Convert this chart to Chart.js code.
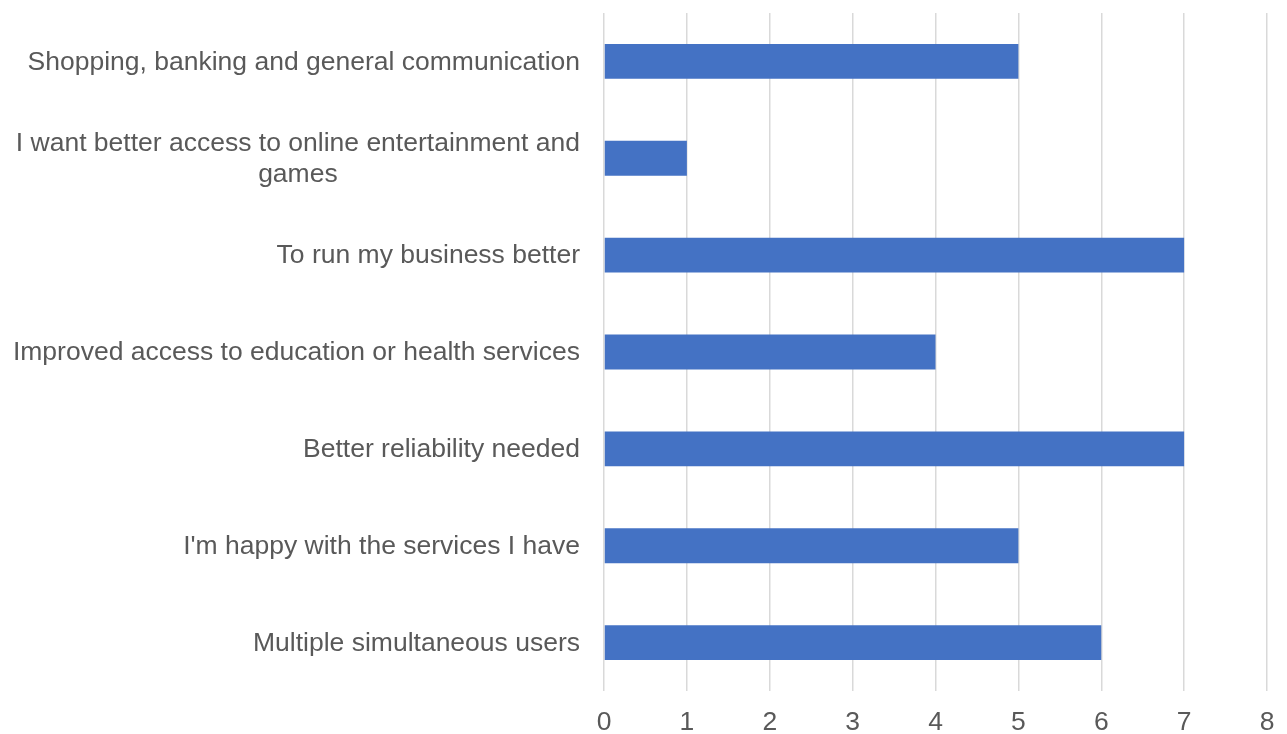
<!DOCTYPE html>
<html>
<head>
<meta charset="utf-8">
<script src="https://cdn.jsdelivr.net/npm/chart.js@4/dist/chart.umd.min.js"></script>
<style>
  html, body { margin: 0; padding: 0; background: #fff; }
  #wrap { width: 1287px; height: 734px; }
</style>
</head>
<body>
<div id="wrap"><canvas id="chart"></canvas></div>
<script>
// categories (top to bottom), wrapped labels given as arrays of lines
const categories = [
	'Shopping, banking and general communication',
	['I want better access to online entertainment and', 'games'],
	'To run my business better',
	'Improved access to education or health services',
	'Better reliability needed',
	"I'm happy with the services I have",
	'Multiple simultaneous users'
];
const responses = [5, 1, 7, 4, 7, 5, 6];
const xTicks = [0, 1, 2, 3, 4, 5, 6, 7, 8];

const textColor = '#595959';
const fontFamily = '"Liberation Sans", Arial, sans-serif';
const labelSize = 26.5;

// y labels drawn by hand so wrapped lines are centred on each other like the original
const categoryLabels = {
	id: 'categoryLabels',
	afterDraw(chart) {
		let ctx = chart.ctx;
		let yScale = chart.scales.y;
		let right = chart.chartArea.left - 24;
		ctx.save();
		ctx.font = labelSize + 'px ' + fontFamily;
		ctx.fillStyle = textColor;
		ctx.textBaseline = 'middle';
		categories.forEach(function (label, i) {
			let lines = Array.isArray(label) ? label : [label];
			let y = yScale.getPixelForValue(i) + 1;
			let lineHeight = 31;
			let widest = Math.max.apply(null, lines.map(l => ctx.measureText(l).width));
			let centre = right - widest / 2;
			let top = y - (lines.length - 1) * lineHeight / 2;
			ctx.textAlign = 'center';
			lines.forEach(function (line, j) {
				ctx.fillText(line, centre, top + j * lineHeight);
			});
		});
		ctx.restore();
	}
};

new Chart(document.getElementById('chart'), {
	type: 'bar',
	data: {
		labels: categories,
		datasets: [{
			data: responses,
			backgroundColor: '#4472C4',
			borderWidth: 0,
			barPercentage: 0.36,
			categoryPercentage: 1
		}]
	},
	options: {
		indexAxis: 'y',
		responsive: true,
		maintainAspectRatio: false,
		animation: false,
		layout: {
			padding: { left: 596, right: 20, top: 13, bottom: 0 }
		},
		plugins: {
			legend: { display: false },
			tooltip: { enabled: false }
		},
		scales: {
			x: {
				min: 0,
				max: 8,
				afterBuildTicks: function (axis) {
					axis.ticks = xTicks.map(v => ({ value: v }));
				},
				afterFit: function (axis) {
					axis.paddingRight = 0;
					axis.height = 43;
				},
				grid: {
					color: '#D9D9D9',
					lineWidth: 1.5,
					drawTicks: false
				},
				border: { display: false },
				ticks: {
					color: textColor,
					padding: 18,
					maxRotation: 0,
					font: { family: fontFamily, size: labelSize, lineHeight: 1 }
				}
			},
			y: {
				grid: { display: false },
				border: { display: false },
				ticks: { display: false }
			}
		}
	},
	plugins: [categoryLabels]
});
</script>
</body>
</html>
